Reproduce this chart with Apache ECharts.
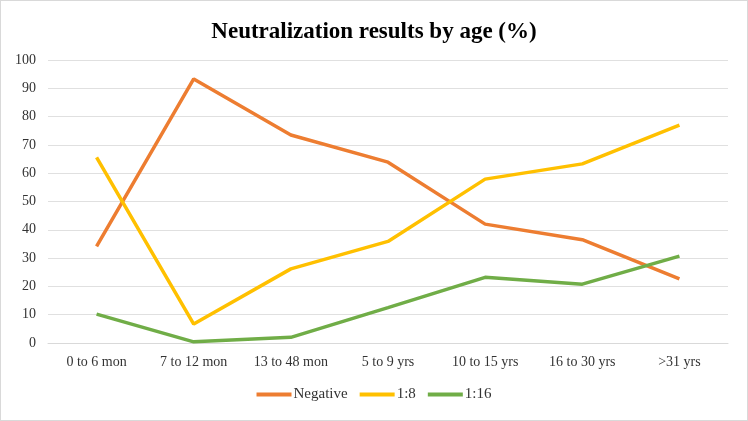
<!DOCTYPE html>
<html><head><meta charset="utf-8">
<script src="https://cdn.jsdelivr.net/npm/echarts@6/dist/echarts.min.js"></script>
<style>html,body{margin:0;padding:0;background:#fff}#c{width:748px;height:421px;box-sizing:border-box;border:1px solid #d9d9d9}</style>
</head><body><div id="c"></div>
<script>
const categories = ['0 to 6 mon','7 to 12 mon','13 to 48 mon','5 to 9 yrs','10 to 15 yrs','16 to 30 yrs','>31 yrs'];
const negative = [34.1, 93.3, 73.5, 63.9, 42.0, 36.5, 22.7];
const ratio8 = [65.6, 6.7, 26.2, 35.9, 57.9, 63.3, 77.0];
const ratio16 = [10.2, 0.4, 2.0, 12.5, 23.2, 20.8, 30.7];
const yTicks = {min: 0, max: 100, interval: 10};
const font = '"Liberation Serif","Times New Roman",serif';
const chart = echarts.init(document.getElementById('c'));
const mk = (name, data, color) => ({name, type:'line', data, showSymbol:false, symbol:'none',
  lineStyle:{width:3.5,color}, itemStyle:{color}, smooth:false});
chart.setOption({
  animation:false,
  title:{text:'Neutralization results by age (%)', left:'center', top:15,
    textStyle:{fontFamily:font, fontSize:23, fontWeight:'bold', color:'#000'}},
  grid:{left:47, right:19, top:59, bottom:77},
  legend:{bottom:13, left:'center', itemWidth:35, itemHeight:4, itemGap:12, icon:'rect',
    textStyle:{fontFamily:font, fontSize:15, color:'#333', padding:[0,0,0,-3]}},
  xAxis:{type:'category', data:categories, boundaryGap:true,
    axisLine:{show:true, lineStyle:{color:'#d9d9d9'}}, axisTick:{show:false},
    axisLabel:{fontFamily:font, fontSize:14, color:'#333', margin:12}},
  yAxis:{type:'value', min:yTicks.min, max:yTicks.max, interval:yTicks.interval,
    axisLine:{show:false}, axisTick:{show:false},
    splitLine:{lineStyle:{color:'#e0e0e0'}},
    axisLabel:{fontFamily:font, fontSize:14, color:'#333', margin:12}},
  series:[mk('Negative',negative,'#ED7D31'), mk('1:8',ratio8,'#FFC000'), mk('1:16',ratio16,'#70AD47')]
});
</script></body></html>
